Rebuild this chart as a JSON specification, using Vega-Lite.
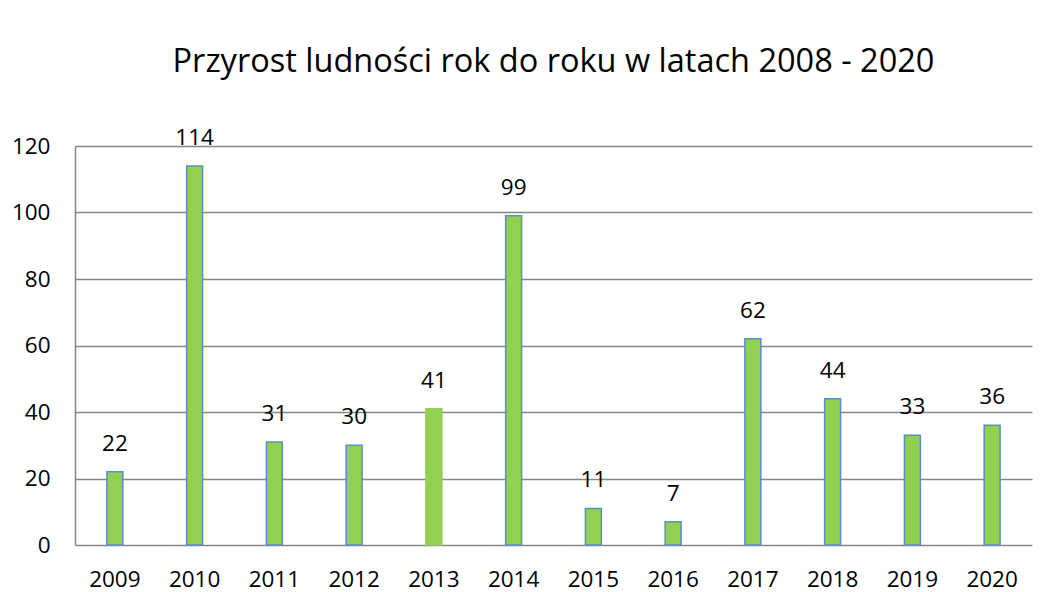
{
  "$schema": "https://vega.github.io/schema/vega-lite/v6.json",
  "width": 957,
  "height": 399,
  "autosize": {"type": "none"},
  "padding": {"left": 75, "top": 146, "right": 17, "bottom": 47},
  "background": "white",
  "title": {
    "text": "Przyrost ludności rok do roku w latach 2008 - 2020",
    "font": "Open Sans",
    "fontSize": 32.5,
    "fontWeight": "normal",
    "color": "#000000",
    "anchor": "middle",
    "offset": 48
  },
  "data": {
    "values": [
      {"rok": "2009", "przyrost": 22, "styl": "a"},
      {"rok": "2010", "przyrost": 114, "styl": "a"},
      {"rok": "2011", "przyrost": 31, "styl": "a"},
      {"rok": "2012", "przyrost": 30, "styl": "a"},
      {"rok": "2013", "przyrost": 41, "styl": "b"},
      {"rok": "2014", "przyrost": 99, "styl": "a"},
      {"rok": "2015", "przyrost": 11, "styl": "a"},
      {"rok": "2016", "przyrost": 7, "styl": "a"},
      {"rok": "2017", "przyrost": 62, "styl": "a"},
      {"rok": "2018", "przyrost": 44, "styl": "a"},
      {"rok": "2019", "przyrost": 33, "styl": "a"},
      {"rok": "2020", "przyrost": 36, "styl": "a"}
    ]
  },
  "encoding": {
    "x": {
      "field": "rok",
      "type": "ordinal",
      "scale": {"paddingInner": 0.8, "paddingOuter": 0.4},
      "axis": {
        "title": null,
        "labelAngle": 0,
        "labelFont": "Open Sans",
        "labelFontSize": 22.5,
        "labelColor": "#000000",
        "labelPadding": 23,
        "ticks": false,
        "domain": false
      }
    },
    "y": {
      "field": "przyrost",
      "type": "quantitative",
      "scale": {"domain": [0, 120]},
      "axis": {
        "title": null,
        "values": [0, 20, 40, 60, 80, 100, 120],
        "labelFont": "Open Sans",
        "labelFontSize": 22.5,
        "labelColor": "#000000",
        "labelPadding": 25,
        "ticks": false,
        "domain": true,
        "domainColor": "#868686",
        "domainWidth": 1.5,
        "grid": true,
        "gridColor": "#868686",
        "gridWidth": 1.5
      }
    }
  },
  "layer": [
    {
      "mark": {"type": "bar", "strokeWidth": 1.5},
      "encoding": {
        "fill": {"value": "#92d050"},
        "stroke": {
          "field": "styl",
          "type": "nominal",
          "scale": {"domain": ["a", "b"], "range": ["#5b8bd0", "#92d050"]},
          "legend": null
        }
      }
    },
    {
      "mark": {"type": "text", "dy": -28, "font": "Open Sans", "fontSize": 22.5, "color": "#000000"},
      "encoding": {
        "text": {"field": "przyrost", "type": "quantitative"}
      }
    }
  ],
  "config": {
    "view": {"stroke": null}
  }
}
